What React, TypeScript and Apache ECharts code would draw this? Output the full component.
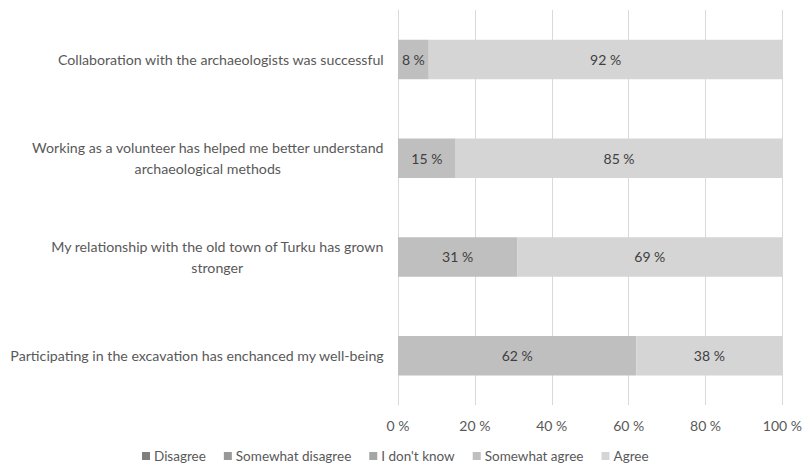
import React, { useEffect, useRef } from "react";
import * as echarts from "echarts";

const categories = [
  "Collaboration with the archaeologists was successful",
  "Working as a volunteer has helped me better understand\narchaeological methods",
  "My relationship with the old town of Turku has grown\nstronger",
  "Participating in the excavation has enchanced my well-being",
];
const seriesNames = ["Disagree", "Somewhat disagree", "I don't know", "Somewhat agree", "Agree"];
const disagree = [0, 0, 0, 0];
const somewhatDisagree = [0, 0, 0, 0];
const dontKnow = [0, 0, 0, 0];
const somewhatAgree = [8, 15, 31, 62];
const agree = [92, 85, 69, 38];
const xTicks = [0, 20, 40, 60, 80, 100];

const colors = ["#7f7f7f", "#999999", "#a5a5a5", "#bfbfbf", "#d5d5d5"];
const FONT = "Lato";

export default function App() {
  const ref = useRef<HTMLDivElement>(null);
  useEffect(() => {
    if (!ref.current) return;
    const chart = echarts.init(ref.current, undefined, { renderer: "svg" });
    const data = [disagree, somewhatDisagree, dontKnow, somewhatAgree, agree];
    chart.setOption({
      animation: false,
      textStyle: { fontFamily: FONT },
      legend: {
        bottom: 1,
        left: 137,
        itemWidth: 8,
        itemHeight: 8,
        itemGap: 18,
        icon: "rect",
        textStyle: { color: "#595959", fontSize: 13.5, fontFamily: FONT, padding: [0, 0, 0, -1] },
        data: seriesNames,
      },
      grid: { left: 398, right: 21, top: 10, bottom: 64, containLabel: false },
      xAxis: {
        type: "value",
        min: xTicks[0],
        max: xTicks[xTicks.length - 1],
        interval: 20,
        axisLine: { show: false },
        axisTick: { show: false },
        splitLine: { lineStyle: { color: "#d9d9d9", width: 1 } },
        axisLabel: {
          color: "#595959",
          fontSize: 14,
          fontFamily: FONT,
          margin: 13,
          formatter: (v: number) => `${v} %`,
        },
      },
      yAxis: {
        type: "category",
        inverse: true,
        data: categories,
        axisLine: { lineStyle: { color: "#d9d9d9" } },
        axisTick: { show: false },
        axisLabel: {
          color: "#595959",
          fontSize: 14.2,
          fontFamily: FONT,
          margin: 14,
          formatter: (v: string) =>
            v
              .split("\n")
              .map((l) => `{c|${l}}`)
              .join("\n"),
          rich: {
            c: { align: "center", color: "#595959", fontSize: 14.2, fontFamily: FONT, lineHeight: 21 },
          },
        },
      },
      series: seriesNames.map((name, i) => ({
        name,
        type: "bar",
        stack: "total",
        barWidth: "40%",
        itemStyle: { color: colors[i] },
        label: {
          show: true,
          position: "inside",
          color: "#404040",
          fontSize: 14,
          fontFamily: FONT,
          formatter: (p: any) => (p.value > 0 ? `${p.value} %` : ""),
        },
        data: data[i],
      })),
    });
    return () => chart.dispose();
  }, []);
  return <div ref={ref} style={{ width: 805, height: 469, position: "absolute", left: 0, top: 0 }} />;
}
